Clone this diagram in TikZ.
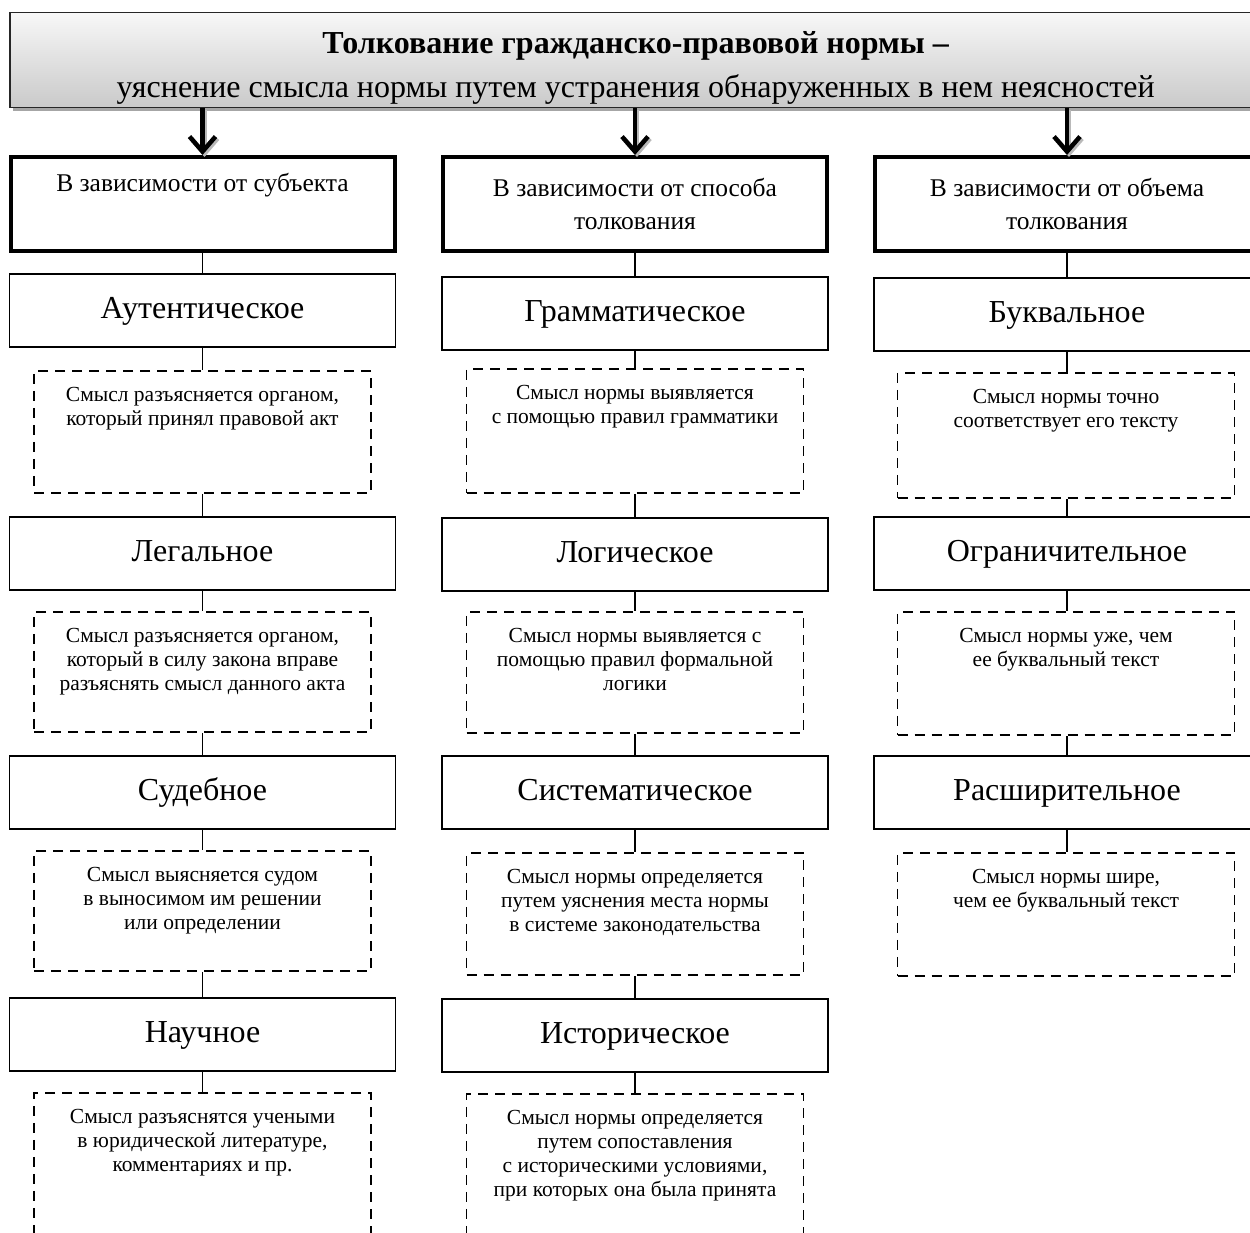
\documentclass[tikz,border=0pt]{standalone}
\usepackage{fontspec}
\setmainfont{Liberation Serif}
\usetikzlibrary{arrows.meta,shadows}
\newcommand\dtx[2]{\parbox[c][#1pt][t]{337pt}{\centering\vspace*{16pt}#2}}
\tikzset{
  hdrbox/.style={draw=black!85, line width=1.5pt, top color=gray!6, bottom color=gray!42,
    drop shadow={shadow xshift=3pt,shadow yshift=-3pt,fill=gray!70,opacity=1},
    inner sep=0pt, anchor=north west, font=\fontsize{32}{44}\selectfont},
  catbox/.style={draw, line width=4pt, fill=white, minimum width=384pt, minimum height=94pt,
    inner sep=0pt, align=center, anchor=north, font=\fontsize{25.5}{33}\selectfont,
    drop shadow={shadow xshift=2pt,shadow yshift=-2pt,fill=gray!45,opacity=1}},
  typebox/.style={draw, line width=1.8pt, fill=white, minimum width=386pt, minimum height=73pt,
    inner sep=0pt, anchor=north, text height=23pt, text depth=7pt, font=\fontsize{32}{36}\selectfont},
  descbox/.style={draw, line width=1.9pt, dash pattern=on 10pt off 7pt, inner sep=0pt,
    anchor=north, font=\fontsize{21.5}{24}\selectfont},
  conn/.style={line width=1.5pt},
  bigarrow/.style={line width=4.5pt, -{Straight Barb[length=15pt,width=26pt]}},
  arrowshadow/.style={line width=4.5pt, draw=gray!55, -{Straight Barb[length=15pt,width=26pt]}},
}
\begin{document}
\begin{tikzpicture}[x=1pt,y=-1pt]
\useasboundingbox (0,0) rectangle (1250,1233);
\clip (0,0) rectangle (1250,1233);

\node[hdrbox] (hdr) at (9,12) {\parbox[c][95pt][t]{1252pt}{\centering\vspace*{19pt}{\bfseries Толкование гражданско-правовой нормы –}\\уяснение смысла нормы путем устранения обнаруженных в нем неясностей}};

% categories
\node[catbox] (c1) at (202.5,155) {В зависимости от субъекта\\\strut};
\node[catbox] (c2) at (635,155) {В зависимости от способа\\толкования};
\node[catbox] (c3) at (1067,155) {В зависимости от объема\\толкования};

% column 1
\node[typebox] (t11) at (202.5,273) {Аутентическое};
\node[descbox] (d11) at (202.5,370) {\dtx{122}{Смысл разъясняется органом,\\который принял правовой акт}};
\node[typebox] (t12) at (202.5,516) {Легальное};
\node[descbox] (d12) at (202.5,611) {\dtx{120}{Смысл разъясняется органом,\\который в силу закона вправе\\разъяснять смысл данного акта}};
\node[typebox] (t13) at (202.5,755) {Судебное};
\node[descbox] (d13) at (202.5,850) {\dtx{120}{Смысл выясняется судом\\в выносимом им решении\\или определении}};
\node[typebox] (t14) at (202.5,997) {Научное};
\node[descbox] (d14) at (202.5,1092) {\dtx{180}{Смысл разъяснятся учеными\\в юридической литературе,\\комментариях и пр.}};

% column 2
\node[typebox] (t21) at (635,276) {Грамматическое};
\node[descbox] (d21) at (635,368) {\dtx{124}{Смысл нормы выявляется\\с помощью правил грамматики}};
\node[typebox] (t22) at (635,517) {Логическое};
\node[descbox] (d22) at (635,611) {\dtx{121}{Смысл нормы выявляется с\\помощью правил формальной\\логики}};
\node[typebox] (t23) at (635,755) {Систематическое};
\node[descbox] (d23) at (635,852) {\dtx{122}{Смысл нормы определяется\\путем уяснения места нормы\\в системе законодательства}};
\node[typebox] (t24) at (635,998) {Историческое};
\node[descbox] (d24) at (635,1093) {\dtx{180}{Смысл нормы определяется\\путем сопоставления\\с историческими условиями,\\при которых она была принята}};

% column 3
\node[typebox] (t31) at (1067,277) {Буквальное};
\node[descbox] (d31) at (1066,372) {\dtx{125}{Смысл нормы точно\\соответствует его тексту}};
\node[typebox] (t32) at (1067,516) {Ограничительное};
\node[descbox] (d32) at (1066,611) {\dtx{123}{Смысл нормы уже, чем\\ее буквальный текст}};
\node[typebox] (t33) at (1067,755) {Расширительное};
\node[descbox] (d33) at (1066,852) {\dtx{123}{Смысл нормы шире,\\чем ее буквальный текст}};

% thick arrows
\foreach \c in {c1,c2,c3}{
  \draw[arrowshadow] ([xshift=2pt,yshift=-2pt]hdr.south -| \c.north) -- ([xshift=2pt,yshift=-2pt]\c.north);
  \draw[bigarrow] (hdr.south -| \c.north) -- (\c.north);
}

% connectors
\draw[conn] (c1.south) -- (t11.north);
\draw[conn] (t11.south) -- (d11.north);
\draw[conn] (d11.south) -- (t12.north);
\draw[conn] (t12.south) -- (d12.north);
\draw[conn] (d12.south) -- (t13.north);
\draw[conn] (t13.south) -- (d13.north);
\draw[conn] (d13.south) -- (t14.north);
\draw[conn] (t14.south) -- (d14.north);

\draw[conn] (c2.south) -- (t21.north);
\draw[conn] (t21.south) -- (d21.north);
\draw[conn] (d21.south) -- (t22.north);
\draw[conn] (t22.south) -- (d22.north);
\draw[conn] (d22.south) -- (t23.north);
\draw[conn] (t23.south) -- (d23.north);
\draw[conn] (d23.south) -- (t24.north);
\draw[conn] (t24.south) -- (d24.north);

\draw[conn] (c3.south) -- (t31.north);
\draw[conn] (t31.south) -- (t31.south |- d31.north);
\draw[conn] (d31.south -| t32.north) -- (t32.north);
\draw[conn] (t32.south) -- (t32.south |- d32.north);
\draw[conn] (d32.south -| t33.north) -- (t33.north);
\draw[conn] (t33.south) -- (t33.south |- d33.north);
\end{tikzpicture}
\end{document}
